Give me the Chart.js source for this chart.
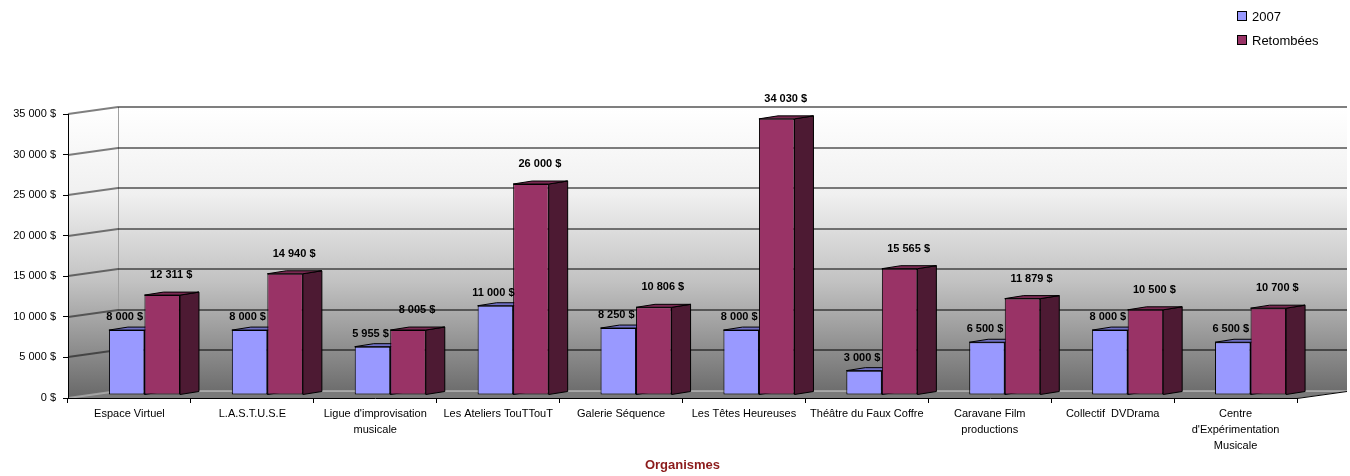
<!DOCTYPE html>
<html>
<head>
<meta charset="utf-8">
<script src="https://cdn.jsdelivr.net/npm/chart.js@4.4.1/dist/chart.umd.min.js"></script>
<style>
  body { margin: 0; background: #fff; font-family: "Liberation Sans", Arial, sans-serif; }
  #wrap { position: relative; width: 1350px; height: 476px; }
  #legend { position: absolute; left: 1237px; top: 5px; font-size: 13px; line-height: 24px; color: #000; }
  #legend .sw { display: inline-block; width: 8px; height: 8px; border: 1px solid #000; margin-right: 5px; vertical-align: 0px; }
  #xtitle { position: absolute; left: 68px; width: 1229px; top: 457px; text-align: center;
            font-weight: bold; font-size: 13px; color: #8b1a1a; }
</style>
</head>
<body>
<div id="wrap">
  <canvas id="c" width="1350" height="476"></canvas>
  <div id="legend"></div>
  <div id="xtitle">Organismes</div>
</div>
<script>
// data
const categories = [
  ["Espace Virtuel"],
  ["L.A.S.T.U.S.E"],
  ["Ligue d'improvisation", "musicale"],
  ["Les Ateliers TouTTouT"],
  ["Galerie Séquence"],
  ["Les Têtes Heureuses"],
  ["Théâtre du Faux Coffre"],
  ["Caravane Film", "productions"],
  ["Collectif  DVDrama"],
  ["Centre", "d'Expérimentation", "Musicale"]
];
const values2007 = [8000, 8000, 5955, 11000, 8250, 8000, 3000, 6500, 8000, 6500];
const valuesRetombees = [12311, 14940, 8005, 26000, 10806, 34030, 15565, 11879, 10500, 10700];
const seriesNames = ["2007", "Retombées"];
const yMax = 35000;
const yStep = 5000;

const frontColors = ["#9999ff", "#993366"];
const sideColors = ["#4d4d80", "#4d1a33"];
const topColors = ["#6f6fc4", "#7a2952"];

// 3d look
const DX = 50, DY = 7;          // wall depth
const BDX = 19, BDY = 3;        // bar depth
const SHIFT_X = 15, SHIFT_Y = -3;
const FONT = '"Liberation Sans", Arial, sans-serif';

function money(v) {
  return String(v).replace(/\B(?=(\d{3})+(?!\d))/g, " ") + " $";
}

const wall3d = {
  id: "wall3d",
  beforeDraw(chart) {
    const { ctx, chartArea: a, scales: { y } } = chart;
    const top = y.getPixelForValue(yMax), bot = y.getPixelForValue(0);
    ctx.save();
    const g = ctx.createLinearGradient(0, top - DY, 0, bot);
    g.addColorStop(0, "#ffffff");
    g.addColorStop(0.3, "#f0f0f0");
    g.addColorStop(0.6, "#c2c2c2");
    g.addColorStop(1, "#686868");
    ctx.beginPath();
    ctx.moveTo(a.left, top);
    ctx.lineTo(a.left + DX, top - DY);
    ctx.lineTo(a.right + DX, top - DY);
    ctx.lineTo(a.right + DX, bot - DY);
    ctx.lineTo(a.right, bot);
    ctx.lineTo(a.left, bot);
    ctx.closePath();
    ctx.fillStyle = g;
    ctx.fill();

    // floor
    ctx.beginPath();
    ctx.moveTo(a.left, bot);
    ctx.lineTo(a.left + DX, bot - DY);
    ctx.lineTo(a.right + DX, bot - DY);
    ctx.lineTo(a.right, bot);
    ctx.closePath();
    ctx.fillStyle = "#7a7a7a";
    ctx.fill();

    // back wall corner
    ctx.strokeStyle = "#a0a0a0";
    ctx.lineWidth = 1;
    ctx.beginPath();
    ctx.moveTo(a.left + DX + 0.5, top - DY);
    ctx.lineTo(a.left + DX + 0.5, bot - DY);
    ctx.stroke();

    // gridlines
    for (let v = 0; v <= yMax; v += yStep) {
      const py = Math.round(y.getPixelForValue(v));
      ctx.strokeStyle = v === 0 ? "rgba(255,255,255,0.35)" : "rgba(0,0,0,0.5)";
      ctx.lineWidth = 2;
      ctx.beginPath();
      ctx.moveTo(a.left, py);
      ctx.lineTo(a.left + DX, py - DY);
      ctx.lineTo(a.right + DX, py - DY);
      ctx.stroke();
    }
    // floor right edge
    ctx.strokeStyle = "#000";
    ctx.lineWidth = 1;
    ctx.beginPath();
    ctx.moveTo(a.right, bot + 0.5);
    ctx.lineTo(a.right + DX, bot - DY + 0.5);
    ctx.stroke();
    ctx.restore();
  },
  beforeDatasetsDraw(chart) {
    const ctx = chart.ctx;
    ctx.save();
    ctx.translate(SHIFT_X, SHIFT_Y);
    ctx.lineWidth = 1;
    ctx.strokeStyle = "#000";
    chart.data.datasets.forEach((ds, di) => {
      chart.getDatasetMeta(di).data.forEach(el => {
        const { x, y, base, width } = el.getProps(["x", "y", "base", "width"], true);
        const l = x - width / 2, r = x + width / 2;
        // side
        ctx.beginPath();
        ctx.moveTo(r, y);
        ctx.lineTo(r + BDX, y - BDY);
        ctx.lineTo(r + BDX, base - BDY);
        ctx.lineTo(r, base);
        ctx.closePath();
        ctx.fillStyle = sideColors[di];
        ctx.fill();
        ctx.stroke();
        // top
        ctx.beginPath();
        ctx.moveTo(l, y);
        ctx.lineTo(l + BDX, y - BDY);
        ctx.lineTo(r + BDX, y - BDY);
        ctx.lineTo(r, y);
        ctx.closePath();
        ctx.fillStyle = topColors[di];
        ctx.fill();
        ctx.stroke();
      });
    });
  },
  afterDatasetsDraw(chart) {
    const ctx = chart.ctx;
    ctx.restore();
    ctx.save();
    ctx.font = "bold 11px " + FONT;
    ctx.fillStyle = "#000";
    ctx.textAlign = "center";
    ctx.textBaseline = "middle";
    chart.data.datasets.forEach((ds, di) => {
      chart.getDatasetMeta(di).data.forEach((el, i) => {
        const { x, y } = el.getProps(["x", "y"], true);
        const lx = x + SHIFT_X + (di === 0 ? -2 : 9);
        const ly = y + SHIFT_Y - (di === 0 ? 13 : 20);
        ctx.fillText(money(ds.data[i]), lx, ly);
      });
    });
    ctx.restore();
  }
};

new Chart(document.getElementById("c"), {
  type: "bar",
  data: {
    labels: categories,
    datasets: [
      { label: seriesNames[0], data: values2007 },
      { label: seriesNames[1], data: valuesRetombees }
    ].map((d, i) => Object.assign(d, {
      backgroundColor: frontColors[i],
      borderColor: "#000",
      borderWidth: 1,
      borderSkipped: false,
      categoryPercentage: 0.578,
      barPercentage: 1,
      clip: false
    }))
  },
  options: {
    responsive: false,
    animation: false,
    events: [],
    layout: { padding: { top: 114, right: 53, left: 0, bottom: 0 } },
    plugins: { legend: { display: false }, tooltip: { enabled: false } },
    scales: {
      x: {
        grid: { drawOnChartArea: false, drawTicks: true, tickLength: 5, color: "#000", offset: true },
        border: { display: true, color: "#000", width: 1 },
        ticks: { color: "#000", font: { family: FONT, size: 11, lineHeight: 1.45 }, padding: 3, maxRotation: 0, autoSkip: false },
        afterFit(s) { s.height = 78; }
      },
      y: {
        min: 0,
        max: yMax,
        ticks: { stepSize: yStep, color: "#000", font: { family: FONT, size: 11 }, padding: 7, callback: v => money(v) },
        grid: { drawOnChartArea: false, drawTicks: true, tickLength: 5, color: "#000" },
        border: { display: true, color: "#000", width: 1 },
        afterFit(s) { s.width = 68; }
      }
    }
  },
  plugins: [wall3d]
});

document.getElementById("legend").innerHTML = seriesNames
  .map((n, i) => '<div><span class="sw" style="background:' + frontColors[i] + '"></span>' + n + '</div>')
  .join("");
</script>
</body>
</html>
